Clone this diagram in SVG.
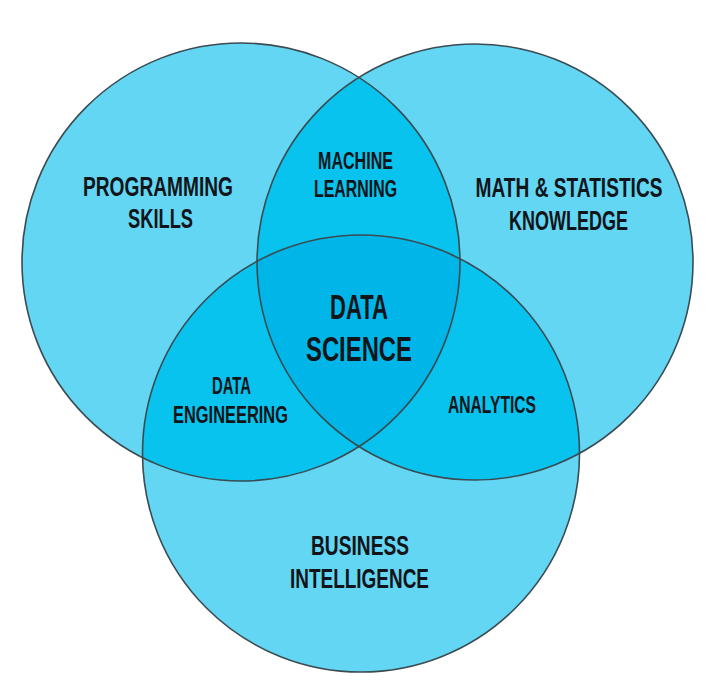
<svg xmlns="http://www.w3.org/2000/svg" width="727" height="694" viewBox="0 0 727 694">
<style>
.base{fill:#63d6f3}
.pair{fill:#08c3ed}
.core{fill:#00b6e9}
.ring{fill:none;stroke:#3b4b52;stroke-width:1.6}
text{font-family:"Liberation Sans","Arial",sans-serif;font-weight:bold;fill:#111418;text-anchor:middle}
.big{font-size:27.5px}
.mid{font-size:23px}
.ctr{font-size:35px}
</style>
<defs>
<clipPath id="cL"><circle cx="241" cy="262" r="219"/></clipPath>
<clipPath id="cR"><circle cx="475" cy="262" r="218"/></clipPath>
<clipPath id="cB"><circle cx="361" cy="453.5" r="218.5"/></clipPath>
</defs>
<rect width="727" height="694" fill="#ffffff"/>
<g id="fills">
<circle class="base" cx="241" cy="262" r="219"/>
<circle class="base" cx="475" cy="262" r="218"/>
<circle class="base" cx="361" cy="453.5" r="218.5"/>
<g clip-path="url(#cL)"><circle class="pair" cx="475" cy="262" r="218"/><circle class="pair" cx="361" cy="453.5" r="218.5"/></g>
<g clip-path="url(#cR)"><circle class="pair" cx="361" cy="453.5" r="218.5"/></g>
<g clip-path="url(#cL)"><g clip-path="url(#cR)"><circle class="core" cx="361" cy="453.5" r="218.5"/></g></g>
</g>
<g id="connectors"></g>
<g id="programming">
<circle class="ring" cx="241" cy="262" r="219"/>
<text class="big" x="158" y="196" textLength="150" lengthAdjust="spacingAndGlyphs">PROGRAMMING</text>
<text class="big" x="160.5" y="228" textLength="65" lengthAdjust="spacingAndGlyphs">SKILLS</text>
</g>
<g id="math">
<circle class="ring" cx="475" cy="262" r="218"/>
<text class="big" x="569" y="197" textLength="187" lengthAdjust="spacingAndGlyphs">MATH &amp; STATISTICS</text>
<text class="big" x="568.5" y="230" textLength="119" lengthAdjust="spacingAndGlyphs">KNOWLEDGE</text>
</g>
<g id="business">
<circle class="ring" cx="361" cy="453.5" r="218.5"/>
<text class="big" x="360" y="555" textLength="98" lengthAdjust="spacingAndGlyphs">BUSINESS</text>
<text class="big" x="359.5" y="588" textLength="139" lengthAdjust="spacingAndGlyphs">INTELLIGENCE</text>
</g>
<g id="machine-learning">
<text class="mid" x="355.5" y="169" textLength="75" lengthAdjust="spacingAndGlyphs">MACHINE</text>
<text class="mid" x="355.5" y="197" textLength="83" lengthAdjust="spacingAndGlyphs">LEARNING</text>
</g>
<g id="data-engineering">
<text class="mid" x="231.5" y="394" textLength="39" lengthAdjust="spacingAndGlyphs">DATA</text>
<text class="mid" x="230.5" y="423" textLength="115" lengthAdjust="spacingAndGlyphs">ENGINEERING</text>
</g>
<g id="analytics">
<text class="mid" x="492" y="413" textLength="88" lengthAdjust="spacingAndGlyphs">ANALYTICS</text>
</g>
<g id="data-science">
<text class="ctr" x="359" y="318.5" textLength="58" lengthAdjust="spacingAndGlyphs">DATA</text>
<text class="ctr" x="359" y="360.5" textLength="106" lengthAdjust="spacingAndGlyphs">SCIENCE</text>
</g>
</svg>
